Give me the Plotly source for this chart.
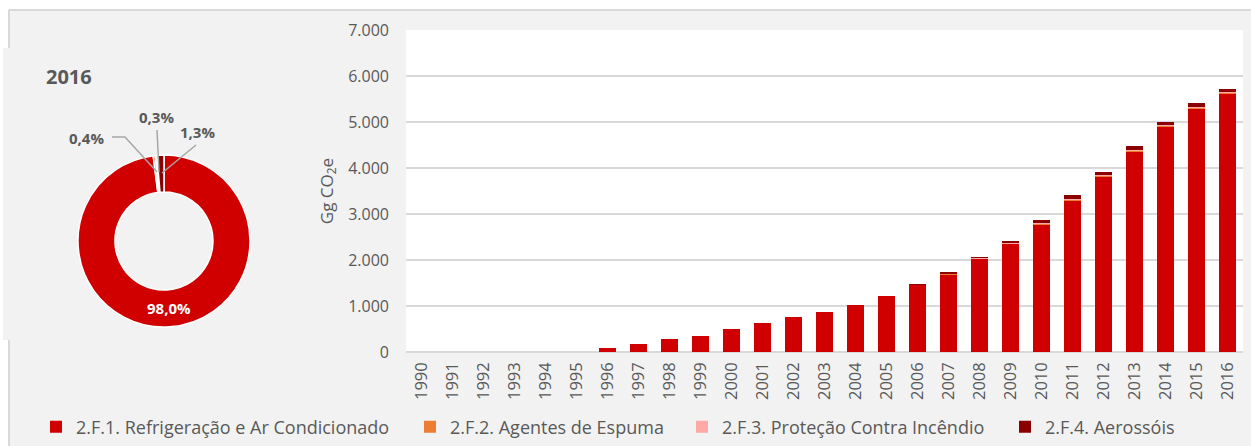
import plotly.graph_objects as go

W, H = 1251, 446

years = [str(y) for y in range(1990, 2017)]
refrigeracao = [0, 0, 0, 0, 0, 0, 80, 180, 275, 348, 493, 637, 757, 876, 1022, 1217,
                1458, 1687, 2022, 2349, 2782, 3286, 3814, 4349, 4895, 5296, 5610]
espuma = [0, 0, 0, 0, 0, 0, 0, 0, 0, 0, 0, 0, 0, 0, 0, 0,
          5, 15, 18, 20, 20, 22, 22, 22, 23, 23, 23]
incendio = [0, 0, 0, 0, 0, 0, 0, 0, 0, 0, 0, 0, 0, 0, 0, 0,
            0, 3, 5, 6, 8, 10, 15, 12, 17, 17, 17]
aerossois = [0, 0, 0, 0, 0, 0, 0, 0, 0, 0, 0, 0, 0, 0, 0, 0,
             15, 40, 18, 45, 70, 95, 62, 95, 65, 70, 75]

names = ["2.F.1. Refrigeração e Ar Condicionado", "2.F.2. Agentes de Espuma",
         "2.F.3. Proteção Contra Incêndio", "2.F.4. Aerossóis"]
colors = ["#d00000", "#ed7d31", "#ffa8a8", "#8b0000"]
pie_year = "2016"

TXT = "#595959"
GRID = "#d9d9d9"
FONT = "Open Sans"


def px(x):
    return x / W


def py(y):
    return 1 - y / H


fig = go.Figure()

# one legend box per series so the entries sit where Excel put them
legend_ids = ["legend", "legend2", "legend3", "legend4"]
legend_x = [36, 410, 682, 1005]

for name, vals, col, lg in zip(names, [refrigeracao, espuma, incendio, aerossois], colors, legend_ids):
    fig.add_trace(go.Bar(x=years, y=vals, name=name, legend=lg,
                         marker=dict(color=col, line=dict(width=0))))

# doughnut for the last year
idx = years.index(pie_year)
pie_vals = [s[idx] for s in [refrigeracao, espuma, incendio, aerossois]]
total = sum(pie_vals)
pcts = [v / total * 100 for v in pie_vals]

fig.add_trace(go.Pie(
    values=pie_vals, labels=names, hole=0.57, sort=False, direction="clockwise", rotation=0,
    marker=dict(colors=colors, line=dict(color="white", width=1.5)),
    textinfo="none", hoverinfo="label+percent", showlegend=False,
    domain=dict(x=[px(78), px(250)], y=[py(327), py(155)]),
))


def fmt(p):
    return f"{p:.1f}".replace(".", ",") + "%"


label_pos = [(169, 308, "white"), (86, 138, TXT), (157, 117, TXT), (198, 132, TXT)]
annotations = []
for p, (lx, ly, c) in zip(pcts, label_pos):
    annotations.append(dict(x=px(lx), y=py(ly), xref="paper", yref="paper", xanchor="center",
                            yanchor="middle", text=f"<b>{fmt(p)}</b>", showarrow=False,
                            font=dict(size=15, color=c, family=FONT)))
annotations.append(dict(x=px(44), y=py(77), xref="paper", yref="paper", xanchor="left",
                        yanchor="middle", text=f"<b>{pie_year}</b>", showarrow=False,
                        font=dict(size=20, color=TXT, family=FONT)))


def path(points):
    return "M" + " L".join(f"{px(a)},{py(b)}" for a, b in points)


shapes = [
    # frame pieces of the original page
    dict(type="rect", xref="paper", yref="paper", x0=0, x1=1, y0=py(10), y1=1,
         fillcolor="white", line_width=0, layer="below"),
    dict(type="rect", xref="paper", yref="paper", x0=0, x1=px(9), y0=0, y1=1,
         fillcolor="white", line_width=0, layer="below"),
    dict(type="rect", xref="paper", yref="paper", x0=px(3), x1=px(406), y0=py(340), y1=py(48),
         fillcolor="#f2f2f2", line_width=0, layer="below"),
    dict(type="line", xref="paper", yref="paper", x0=px(9), x1=1, y0=py(10), y1=py(10),
         line=dict(color=GRID, width=2), layer="below"),
    dict(type="line", xref="paper", yref="paper", x0=px(9), x1=px(9), y0=py(10), y1=py(48),
         line=dict(color=GRID, width=2), layer="below"),
    dict(type="line", xref="paper", yref="paper", x0=px(9), x1=px(9), y0=py(340), y1=0,
         line=dict(color=GRID, width=2), layer="below"),
    # leader lines for the small slices
    dict(type="path", xref="paper", yref="paper", path=path([(112, 137), (125, 137), (157, 172)]),
         line=dict(color="#a6a6a6", width=1.5)),
    dict(type="path", xref="paper", yref="paper", path=path([(157, 130), (159, 172)]),
         line=dict(color="#a6a6a6", width=1.5)),
    dict(type="path", xref="paper", yref="paper", path=path([(196, 145), (162, 173)]),
         line=dict(color="#a6a6a6", width=1.5)),
]

fig.update_layout(
    width=W, height=H,
    margin=dict(l=0, r=0, t=0, b=0, autoexpand=False),
    paper_bgcolor="#f2f2f2", plot_bgcolor="white",
    separators=",.",
    font=dict(family=FONT, color=TXT, size=15),
    barmode="stack", bargap=0.42,
    xaxis=dict(domain=[px(406), px(1243)], tickangle=-90, showgrid=False, ticks="",
               tickfont=dict(size=16.5, color=TXT), ticklabelstandoff=6, fixedrange=True),
    yaxis=dict(domain=[py(352), py(30)], range=[0, 7000], dtick=1000, tickformat=",.0f",
               gridcolor=GRID, gridwidth=2, zeroline=True, zerolinecolor=GRID, zerolinewidth=2,
               ticks="", ticklabelstandoff=16, tickfont=dict(size=16, color=TXT),
               title=dict(text="Gg CO<sub>2</sub>e", font=dict(size=17, color=TXT), standoff=10)),
    annotations=annotations,
    shapes=shapes,
)

for lg, lx in zip(legend_ids, legend_x):
    fig.update_layout({lg: dict(orientation="h", x=px(lx), y=py(427), yanchor="middle",
                                xanchor="left", font=dict(size=18, color=TXT),
                                bgcolor="rgba(0,0,0,0)")})

fig.write_html("out.html", config={"displayModeBar": False},
               post_script="document.body.style.margin='0';")
